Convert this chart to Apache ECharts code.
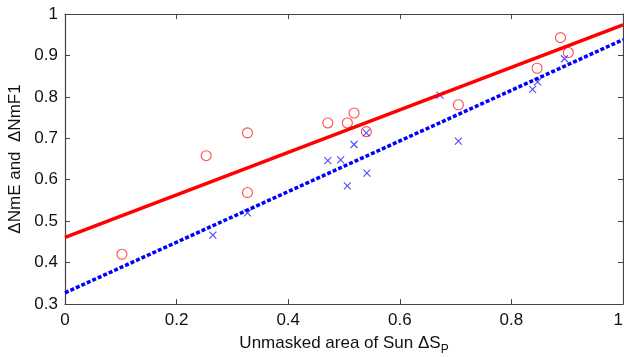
<!DOCTYPE html>
<html><head><meta charset="utf-8">
<script src="https://cdn.jsdelivr.net/npm/echarts@6/dist/echarts.min.js"></script>
<style>html,body{margin:0;padding:0;background:#fff}#c{width:624px;height:357px}</style>
</head><body><div id="c"></div>
<script>
var xTicks = [0, 0.2, 0.4, 0.6, 0.8, 1];
var yTicks = [0.3, 0.4, 0.5, 0.6, 0.7, 0.8, 0.9, 1];
var nmEx = [0.102, 0.253, 0.327, 0.327, 0.471, 0.506, 0.518, 0.540, 0.705, 0.846, 0.888, 0.902];
var nmEy = [0.420, 0.658, 0.713, 0.569, 0.737, 0.737, 0.761, 0.716, 0.781, 0.869, 0.943, 0.907];
var nmF1x = [0.265, 0.327, 0.471, 0.494, 0.506, 0.518, 0.540, 0.541, 0.672, 0.705, 0.838, 0.847, 0.895];
var nmF1y = [0.466, 0.520, 0.646, 0.648, 0.585, 0.685, 0.713, 0.616, 0.804, 0.693, 0.818, 0.836, 0.892];
var fitEx = [0, 1];
var fitEy = [0.461, 0.974];
var fitF1x = [0, 1];
var fitF1y = [0.327, 0.938];

function pairs(xs, ys){ return xs.map(function(v,i){return [v, ys[i]];}); }

var font = 'Liberation Sans, Arial, Helvetica, sans-serif';
var axCol = '#444';
var chart = echarts.init(document.getElementById('c'));
function xAx(pos, showLabel, name){
  return {
    type:'value', position:pos, min:0, max:1, interval:0.2,
    axisLine:{show:true, onZero:false, lineStyle:{color:axCol, width:1.2}},
    axisTick:{show:true, inside:true, length:5, lineStyle:{color:axCol, width:1}},
    splitLine:{show:false},
    axisLabel:{show:showLabel, color:'#111', fontSize:17, fontFamily:font, margin:8,
      alignMaxLabel:'right',
      formatter:function(v){var r=Math.round(v*10)/10; return xTicks.indexOf(r)>=0 ? String(r) : '';}},
    name: name || '', nameLocation:'middle', nameGap:26,
    nameTextStyle:{color:'#111', fontSize:17, fontFamily:font,
      rich:{s:{fontSize:12, color:'#111', fontFamily:font, padding:[14,0,0,0]}}}
  };
}
function yAx(pos, showLabel, name){
  return {
    type:'value', position:pos, min:0.3, max:1, interval:0.1,
    axisLine:{show:true, onZero:false, lineStyle:{color:axCol, width:1.2}},
    axisTick:{show:true, inside:true, length:5, lineStyle:{color:axCol, width:1}},
    splitLine:{show:false},
    axisLabel:{show:showLabel, color:'#111', fontSize:17, fontFamily:font, margin:7,
      formatter:function(v){var r=Math.round(v*10)/10; return r===1?'1':String(r);}},
    name: name || '', nameLocation:'middle', nameGap:38,
    nameTextStyle:{color:'#111', fontSize:17, fontFamily:font}
  };
}
chart.setOption({
  animation:false,
  backgroundColor:'#fff',
  grid:{left:65, right:1, top:14, bottom:53, outerBoundsMode:'none', containLabel:false},
  xAxis:[xAx('bottom', true, 'Unmasked area of Sun \u0394S{s|P}'), xAx('top', false)],
  yAxis:[yAx('left', true, '\u0394NmE and  \u0394NmF1'), yAx('right', false)],
  series:[
    {type:'line', data:pairs(fitEx, fitEy), symbol:'none', clip:true,
     lineStyle:{color:'#ff0000', width:3.5}},
    {type:'line', data:pairs(fitF1x, fitF1y), symbol:'none', clip:true,
     lineStyle:{color:'#0000ff', width:3.5, type:[4,2], cap:'butt'}},
    {type:'scatter', data:pairs(nmEx, nmEy), symbol:'circle', symbolSize:10,
     itemStyle:{color:'rgba(0,0,0,0)', borderColor:'#ff2020', borderWidth:1.1}},
    {type:'scatter', data:pairs(nmF1x, nmF1y), symbol:'path://M0,0L10,10M10,0L0,10', symbolSize:7,
     itemStyle:{color:'rgba(0,0,0,0)', borderColor:'#2020ff', borderWidth:1.1}}
  ]
});
</script></body></html>
